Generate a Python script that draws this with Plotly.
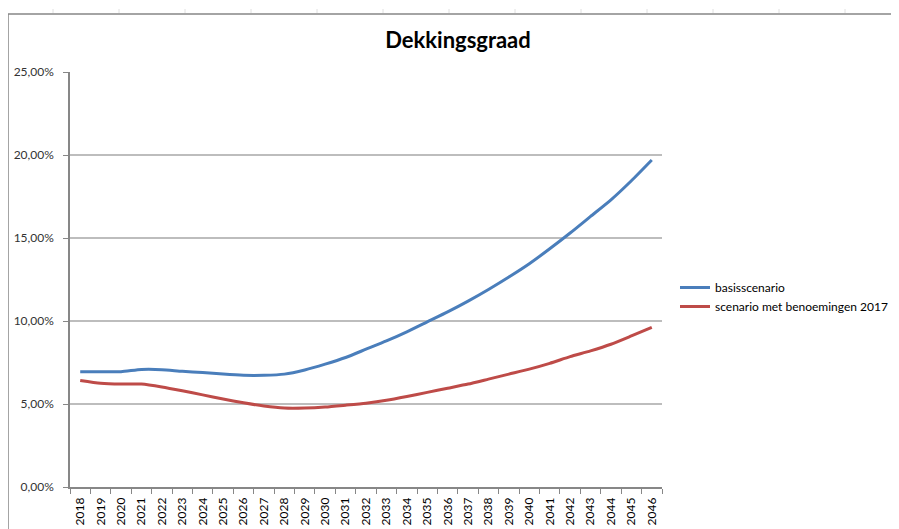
import plotly.graph_objects as go

years = [str(y) for y in range(2018, 2047)]
basis = [6.95, 6.95, 6.95, 7.08, 7.07, 6.97, 6.9, 6.8, 6.73, 6.73, 6.8, 7.05,
         7.4, 7.8, 8.3, 8.8, 9.35, 9.95, 10.55, 11.2, 11.9, 12.65, 13.45,
         14.35, 15.3, 16.3, 17.3, 18.45, 19.7]
benoem = [6.42, 6.25, 6.2, 6.2, 6.03, 5.8, 5.55, 5.3, 5.07, 4.88, 4.76, 4.76,
          4.82, 4.93, 5.05, 5.22, 5.45, 5.7, 5.95, 6.2, 6.5, 6.8, 7.1,
          7.45, 7.85, 8.2, 8.6, 9.1, 9.62]
names = ["basisscenario", "scenario met benoemingen 2017"]
colors = ["#4A7EBB", "#BE4B48"]
title = "Dekkingsgraad"

# page offset caused by the default body margin of the html page
OX, OY = 8, 8
W, H = 899 - OX, 529 - OY
# desired plot area in page pixels: x 70..662, y 72..487
PL, PT, PR, PB = 70, 72, 662, 487
L, T = PL - OX, PT - OY
pw, ph = PR - PL, PB - PT
R = W - L - pw
B = H - T - ph

def px(x):  # page pixel -> paper x
    return (x - PL) / pw

def py(y):  # page pixel -> paper y
    return (PB - y) / ph

fig = go.Figure()
for vals, name, col in zip([basis, benoem], names, colors):
    fig.add_trace(go.Scatter(
        x=years, y=[v / 100 for v in vals], name=name, mode="lines",
        line=dict(color=col, width=3, shape="spline", smoothing=0.6)))

shapes = []
# chart area border
shapes.append(dict(type="rect", xref="paper", yref="paper",
                   x0=px(8), x1=px(960), y0=py(600), y1=py(14),
                   line=dict(color="#878787", width=1.5), fillcolor="rgba(0,0,0,0)",
                   layer="below"))
# faint sheet gridlines outside the chart
for gx in range(53, 899, 66):
    shapes.append(dict(type="line", xref="paper", yref="paper",
                       x0=px(gx), x1=px(gx), y0=py(13), y1=py(9),
                       line=dict(color="#e0e0e0", width=1)))

fig.update_layout(
    width=W, height=H,
    margin=dict(l=L, r=R, t=T, b=B, autoexpand=False),
    paper_bgcolor="white", plot_bgcolor="white",
    separators=",.",
    font=dict(family="Lato, Open Sans, sans-serif", size=12, color="#000"),
    title=dict(text="<b>" + title + "</b>", xref="container",
               x=(458 - OX) / W, xanchor="center", yref="container",
               y=1 - (40 - OY) / H, yanchor="middle",
               font=dict(size=22, family="Lato, sans-serif", color="#000")),
    legend=dict(x=px(675), y=py(297), xanchor="left", yanchor="middle",
                bgcolor="rgba(0,0,0,0)", font=dict(size=12), itemwidth=30,
                tracegroupgap=9),
    shapes=shapes,
    xaxis=dict(type="category", tickangle=-90, tickson="boundaries",
               ticks="outside", ticklen=5, tickcolor="#878787",
               showline=True, linecolor="#878787", linewidth=1.5,
               showgrid=False, tickfont=dict(size=12), range=[-0.5, 28.5],
               ticklabelstandoff=4, automargin=False),
    yaxis=dict(range=[0, 0.25], dtick=0.05, tickformat=".2%",
               ticks="outside", ticklen=5, tickcolor="#878787",
               showline=True, linecolor="#878787", linewidth=1.5,
               showgrid=True, gridcolor="#BDBDBD", gridwidth=1.5,
               zeroline=False, tickfont=dict(size=12, color="#333"),
               ticklabelstandoff=7, automargin=False),
)
fig.write_html("out.html",
               post_script="document.documentElement.style.overflow='hidden';"
                           "document.body.style.overflow='hidden';")
